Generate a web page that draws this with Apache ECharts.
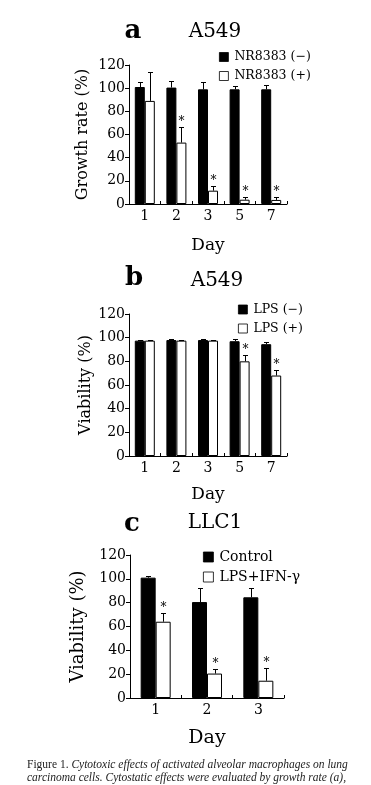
<!DOCTYPE html>
<html>
<head>
<meta charset="utf-8">
<script src="https://cdn.jsdelivr.net/npm/echarts@6/dist/echarts.min.js"></script>
<style>
html,body{margin:0;padding:0;background:#fff;}
#chart{width:371px;height:785px;}
</style>
</head>
<body>
<div id="chart"></div>
<script>
// Panel a: A549 growth rate
const daysA = ['1', '2', '3', '5', '7'];
const aMinus = [101, 100.5, 99, 99, 99];
const aMinusSD = [4.5, 6, 6, 3, 4];
const aPlus = [89, 53, 11.5, 3.7, 3.5];
const aPlusSD = [25, 13.5, 4, 2, 2.8];
const aSig = [0, 1, 1, 1, 1];

// Panel b: A549 viability
const daysB = ['1', '2', '3', '5', '7'];
const bMinus = [97.5, 98, 98, 97, 94.5];
const bMinusSD = [0.8, 0.6, 0.8, 1.5, 1.8];
const bPlus = [97.5, 97.5, 97.5, 80, 68];
const bPlusSD = [0.8, 0.5, 0.7, 5, 5];
const bSig = [0, 0, 0, 1, 1];

// Panel c: LLC1 viability
const daysC = ['1', '2', '3'];
const cControl = [101, 80.5, 84.5];
const cControlSD = [1.5, 12, 8];
const cTreat = [64, 20.5, 14.5];
const cTreatSD = [7, 4, 10.5];
const cSig = [1, 1, 1];

const yTicks = [0, 20, 40, 60, 80, 100, 120];

const FONT = 'DejaVu Serif';
const chart = echarts.init(document.getElementById('chart'));

function errSeries(idx, vals, sds, sigs, offset) {
  return {
    type: 'custom',
    xAxisIndex: idx,
    yAxisIndex: idx,
    silent: true,
    z: 10,
    data: vals.map((v, i) => [i, v, sds[i], sigs[i]]),
    renderItem: function (params, api) {
      const c = api.coord([api.value(0), api.value(1)]);
      const t = api.coord([api.value(0), api.value(1) + api.value(2)]);
      const x = Math.round(c[0] + offset) + 0.5;
      const ty = Math.round(t[1]) + 0.5;
      const children = [
        { type: 'line', shape: { x1: x, y1: c[1], x2: x, y2: ty }, style: { stroke: '#000', lineWidth: 1 } },
        { type: 'line', shape: { x1: x - 2.5, y1: ty, x2: x + 2.5, y2: ty }, style: { stroke: '#000', lineWidth: 1 } }
      ];
      if (api.value(3)) {
        children.push({
          type: 'text',
          style: { text: '*', x: x, y: ty - 6, align: 'center', verticalAlign: 'middle', fontSize: 12, fontFamily: FONT, fill: '#000' }
        });
      }
      return { type: 'group', children: children };
    }
  };
}

function xAxis(idx, cats, nameGap, nameSize) {
  return {
    type: 'category', gridIndex: idx, data: cats,
    name: 'Day', nameLocation: 'middle', nameGap: nameGap,
    nameTextStyle: { fontFamily: FONT, fontSize: nameSize, color: '#000' },
    axisLine: { lineStyle: { color: '#000', width: 1 } },
    axisTick: { show: true, inside: true, length: 3, lineStyle: { color: '#000' } },
    axisLabel: { fontFamily: FONT, fontSize: 14, color: '#000', margin: 5 },
    splitLine: { show: false }
  };
}

function yAxis(idx, name, nameGap, nameSize) {
  return {
    type: 'value', gridIndex: idx, min: yTicks[0], max: yTicks[yTicks.length - 1], interval: 20,
    name: name, nameLocation: 'middle', nameGap: nameGap,
    nameTextStyle: { fontFamily: FONT, fontSize: nameSize, color: '#000' },
    axisLine: { show: true, lineStyle: { color: '#000', width: 1 } },
    axisTick: { show: true, length: 4, lineStyle: { color: '#000' } },
    axisLabel: { fontFamily: FONT, fontSize: 14, color: '#000', margin: 4 },
    splitLine: { show: false }
  };
}

function bar(idx, name, vals, filled, w) {
  return {
    type: 'bar', name: name, xAxisIndex: idx, yAxisIndex: idx, data: vals,
    barWidth: w, barGap: '0%',
    itemStyle: filled ? { color: '#000', borderColor: '#000', borderWidth: 1 } : { color: '#fff', borderColor: '#000', borderWidth: 1 },
    emphasis: { disabled: true }
  };
}

function legend(names, left, top, gap, size, iw) {
  return {
    data: names, left: left, top: top, orient: 'vertical', itemGap: gap,
    itemWidth: iw, itemHeight: iw, icon: 'rect', padding: 0,
    selectedMode: false,
    itemStyle: { borderWidth: 0.8, borderColor: '#000' },
    textStyle: { fontFamily: FONT, fontSize: size, color: '#000', padding: [0, 0, 0, 1] }
  };
}

function label(text, x, y, size, weight) {
  return {
    type: 'text', x: x, y: y,
    style: { text: text, fontFamily: FONT, fontSize: size, fontWeight: weight, fill: '#000', align: 'center', verticalAlign: 'middle' }
  };
}

const option = {
  backgroundColor: '#fff',
  animation: false,
  title: [{
    left: 22, top: 753,
    text: '{r|Figure 1. }{i|Cytotoxic effects of activated alveolar macrophages on lung}\n{i|carcinoma cells. Cytostatic effects were evaluated by growth rate (a),}',
    textStyle: {
      fontWeight: 'normal',
      rich: {
        r: { fontFamily: 'Liberation Serif', fontSize: 11.5, fontWeight: 'normal', color: '#222', lineHeight: 13 },
        i: { fontFamily: 'Liberation Serif', fontSize: 11.5, fontWeight: 'normal', fontStyle: 'italic', color: '#222', lineHeight: 13 }
      }
    }
  }],
  graphic: [
    label('a', 133, 31, 26, 'bold'),
    label('A549', 215, 32, 20, 'normal'),
    label('b', 134, 278, 26, 'bold'),
    label('A549', 217, 281, 20, 'normal'),
    label('c', 132, 524, 26, 'bold'),
    label('LLC1', 215, 523, 20, 'normal')
  ],
  legend: [
    legend(['NR8383 (−)', 'NR8383 (+)'], 219, 50.5, 6, 12.5, 9),
    legend(['LPS (−)', 'LPS (+)'], 238, 303, 6, 12.5, 9),
    legend(['Control', 'LPS+IFN-γ'], 203, 550, 6, 14, 10)
  ],
  grid: [
    { left: 129, width: 158, top: 65, height: 139 },
    { left: 129, width: 158, top: 314, height: 142 },
    { left: 130, width: 154, top: 555, height: 143 }
  ],
  xAxis: [
    xAxis(0, daysA, 33, 17),
    xAxis(1, daysB, 30, 17),
    xAxis(2, daysC, 31, 19)
  ],
  yAxis: [
    yAxis(0, 'Growth rate (%)', 38, 16),
    yAxis(1, 'Viability (%)', 35, 16),
    yAxis(2, 'Viability (%)', 43, 18)
  ],
  series: [
    bar(0, 'NR8383 (−)', aMinus, true, 10),
    bar(0, 'NR8383 (+)', aPlus, false, 10),
    errSeries(0, aMinus, aMinusSD, aMinus.map(() => 0), -5),
    errSeries(0, aPlus, aPlusSD, aSig, 5),
    bar(1, 'LPS (−)', bMinus, true, 10),
    bar(1, 'LPS (+)', bPlus, false, 10),
    errSeries(1, bMinus, bMinusSD, bMinus.map(() => 0), -5),
    errSeries(1, bPlus, bPlusSD, bSig, 5),
    bar(2, 'Control', cControl, true, 15),
    bar(2, 'LPS+IFN-γ', cTreat, false, 15),
    errSeries(2, cControl, cControlSD, cControl.map(() => 0), -7.5),
    errSeries(2, cTreat, cTreatSD, cSig, 7.5)
  ]
};
chart.setOption(option);
</script>
</body>
</html>
